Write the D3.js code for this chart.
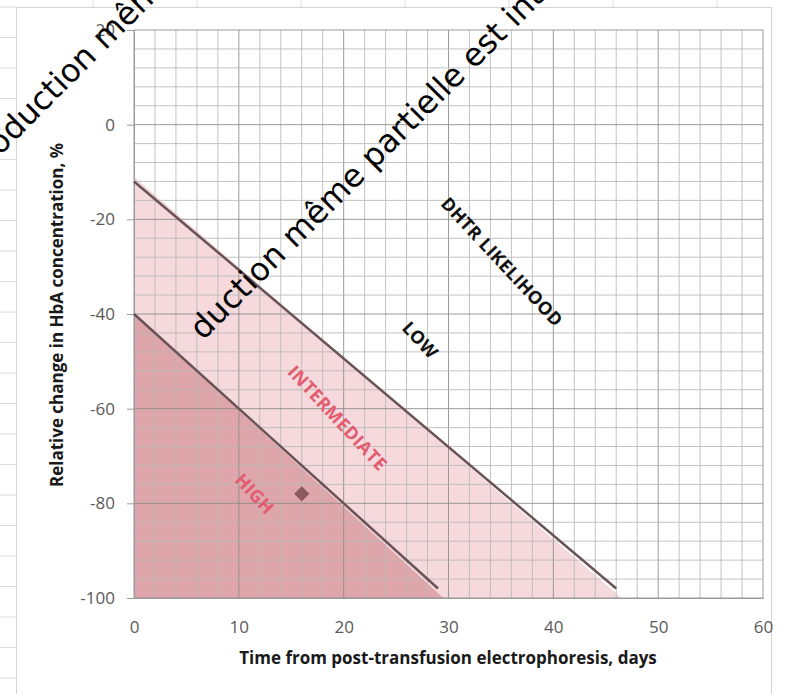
<!DOCTYPE html>
<html>
<head>
<meta charset="utf-8">
<script src="https://cdn.jsdelivr.net/npm/d3@7"></script>
<style>
  body { margin: 0; background: #fff; }
  svg { display: block; }
</style>
</head>
<body>
<div id="chart"></div>
<script>
// axis ticks
const xTicks = [0, 10, 20, 30, 40, 50, 60];
const yTicks = [-100, -80, -60, -40, -20, 0, 20];

// zone boundaries (days, % change)
const lowBoundary = [[0, -12], [46, -98]];
const highBoundary = [[0, -40], [29, -98]];
const intermediateZone = [[0, -11], [46.5, -100], [0, -100]];
const highZone = [[0, -40], [29.5, -100], [0, -100]];

// patient point
const patient = [[16, -78]];

// zone labels and their anchors in data units
const zoneNames = ["HIGH", "INTERMEDIATE", "LOW", "DHTR LIKELIHOOD"];
const zoneAnchors = [[11.5, -78], [19.4, -62], [27.3, -45.5], [35.1, -29]];

const watermarks = ["Reproduction même partielle est interdite", "duction même partielle est interdite"];

const W = 792, H = 694;
const svg = d3.select("#chart").append("svg").attr("width", W).attr("height", H);

// spreadsheet background behind the chart object
svg.append("g").selectAll("line").data(d3.range(7, H, 30.5)).enter().append("line")
  .attr("x1", 0).attr("x2", 16).attr("y1", d => d).attr("y2", d => d)
  .attr("stroke", "#dcdcdc");
svg.append("g").selectAll("line").data(d3.range(93, W, 104)).enter().append("line")
  .attr("x1", d => d).attr("x2", d => d).attr("y1", 0).attr("y2", 7)
  .attr("stroke", "#dcdcdc");
svg.append("rect").attr("x", 16.5).attr("y", 7.5).attr("width", 755).attr("height", H)
  .attr("fill", "#fff").attr("stroke", "#d4d4d4");

const x = d3.scaleLinear().domain([0, 60]).range([134, 763]);
const y = d3.scaleLinear().domain([-100, 20]).range([598, 30]);

const line = d3.line().x(d => x(d[0])).y(d => y(d[1]));

// zones
svg.append("path").datum(intermediateZone).attr("d", d => line(d) + "Z")
  .attr("fill", "#f5d9dc");
svg.append("path").datum(highZone).attr("d", d => line(d) + "Z")
  .attr("fill", "#dea6aa");

// grid
const grid = svg.append("g");
grid.selectAll(".vx").data(d3.range(0, 61, 2)).enter().append("line")
  .attr("x1", d => x(d)).attr("x2", d => x(d)).attr("y1", y(20)).attr("y2", y(-100))
  .attr("stroke", d => d % 10 === 0 ? "#8a8a8a" : "#b8b8b8").attr("stroke-opacity", 0.85);
grid.selectAll(".hy").data(d3.range(-100, 21, 4)).enter().append("line")
  .attr("x1", x(0)).attr("x2", x(60)).attr("y1", d => y(d)).attr("y2", d => y(d))
  .attr("stroke", d => d % 20 === 0 ? "#8a8a8a" : "#b8b8b8").attr("stroke-opacity", 0.85);

// axes
const yAxis = svg.append("g").attr("transform", `translate(${x(0)},0)`)
  .call(d3.axisLeft(y).tickValues(yTicks).tickFormat(d => String(d)).tickSize(7).tickPadding(12));
const xAxis = svg.append("g").attr("transform", `translate(0,${y(-100)})`)
  .call(d3.axisBottom(x).tickValues(xTicks).tickFormat(d => String(d)).tickSize(0).tickPadding(23));
[xAxis, yAxis].forEach(a => {
  a.select(".domain").attr("stroke", "#9a9a9a");
  a.selectAll(".tick line").attr("stroke", "#9a9a9a");
  a.selectAll("text").attr("fill", "#595959").style("font", "17px 'Open Sans'");
});

// boundary lines
[lowBoundary, highBoundary].forEach(b => {
  svg.append("path").datum(b).attr("d", line)
    .attr("fill", "none").attr("stroke", "#6a5256").attr("stroke-width", 2.5);
});

// patient marker
svg.selectAll(".pt").data(patient).enter().append("path")
  .attr("d", d3.symbol(d3.symbolSquare, 115))
  .attr("transform", d => `translate(${x(d[0])},${y(d[1])}) rotate(45)`)
  .attr("fill", "#8a5a60");

// zone labels
const zoneColors = ["#e35c70", "#e35c70", "#111", "#111"];
svg.selectAll(".zl").data(zoneNames).enter().append("text")
  .attr("transform", (d, i) => `translate(${x(zoneAnchors[i][0])},${y(zoneAnchors[i][1])}) rotate(47)`)
  .attr("text-anchor", "middle").attr("dy", "0.35em")
  .attr("fill", (d, i) => zoneColors[i])
  .style("font", "bold 18px 'Open Sans'").style("letter-spacing", "0.3px")
  .text(d => d);

// axis titles
svg.append("text").attr("x", 448).attr("y", 664).attr("text-anchor", "middle")
  .attr("fill", "#1a1a1a").style("font", "bold 17px 'Open Sans'")
  .text("Time from post-transfusion electrophoresis, days");
svg.append("text").attr("transform", "translate(63,315) rotate(-90)").attr("text-anchor", "middle")
  .attr("fill", "#1a1a1a").style("font", "bold 17px 'Open Sans'")
  .text("Relative change in HbA concentration, %");

// watermark overlay
const wmOrigins = [[-52, 208], [203, 341]];
svg.selectAll(".wm").data(watermarks).enter().append("text")
  .attr("transform", (d, i) => `translate(${wmOrigins[i][0]},${wmOrigins[i][1]}) rotate(-45)`)
  .attr("fill", "#000").style("font", "32px 'DejaVu Sans'")
  .text(d => d);
</script>
</body>
</html>
